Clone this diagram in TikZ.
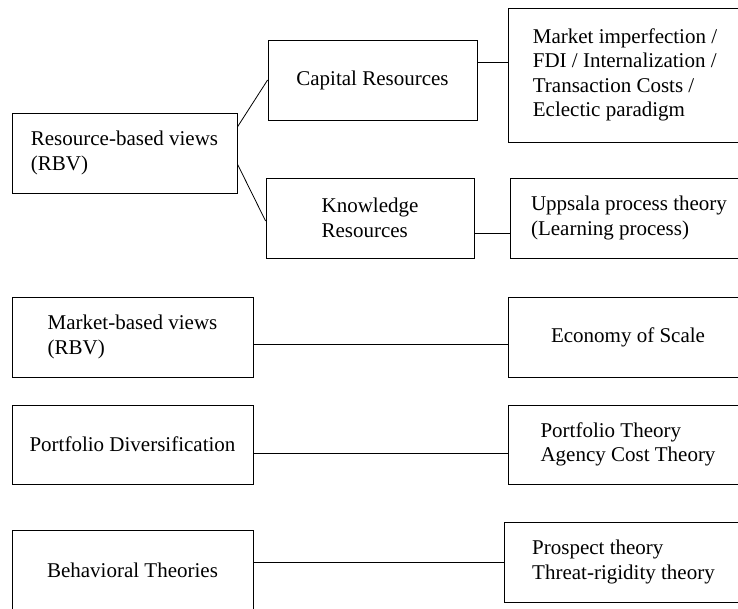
\documentclass[tikz,border=0pt]{standalone}
\usepackage{fontspec}
\setmainfont{Liberation Serif}
\usetikzlibrary{positioning,calc}

\begin{document}
\begin{tikzpicture}[x=1pt, y=-1pt, line width=0.8pt,
    every node/.style={rectangle, draw, align=left, inner sep=0pt, minimum height=80pt, font=\fontsize{21}{24.5}\selectfont}]
    \useasboundingbox (0,0) rectangle (738,608);
    \clip (0,0) rectangle (738,608);
    % resource-based branch
    \node [minimum width=225pt] (rbv) at (124.5,153) {Resource-based views\\(RBV)};
    \node [minimum width=209pt] (cap) at (372.5,80) {Capital Resources};
    \node [minimum width=208pt] (know) at (370,218) {Knowledge\\Resources};
    \node [minimum width=234pt, minimum height=134pt] (mkt) at (625,75) {Market imperfection /\\FDI / Internalization /\\Transaction Costs /\\Eclectic paradigm};
    \node [minimum width=238pt] (upp) at (629,218) {Uppsala process theory\\(Learning process)};
    % other views
    \node [minimum width=241pt] (mbv) at (132.5,337) {Market-based views\\(RBV)};
    \node [minimum width=240pt] (eos) at (628,337) {Economy of Scale};
    \node [minimum width=241pt, minimum height=79pt] (pdiv) at (132.5,444.5) {Portfolio Diversification};
    \node [minimum width=240pt, minimum height=79pt] (pth) at (628,444.5) {Portfolio Theory\\Agency Cost Theory};
    \node [minimum width=241pt] (beh) at (132.5,570) {Behavioral Theories};
    \node [minimum width=239pt] (pros) at (623.5,562) {Prospect theory\\Threat-rigidity theory};

    \draw ([yshift=26pt]rbv.east) -- (cap.west);
    \draw ([yshift=-11pt]rbv.east) -- ([yshift=-3pt]know.west);
    \draw ([yshift=18pt]cap.east) -- ([yshift=18pt]cap.east -| mkt.west);
    \draw ([yshift=-15pt]know.east) -- ([yshift=-15pt]know.east -| upp.west);
    \draw ([yshift=-7pt]mbv.east) -- ([yshift=-7pt]mbv.east -| eos.west);
    \draw ([yshift=-8.5pt]pdiv.east) -- ([yshift=-8.5pt]pdiv.east -| pth.west);
    \draw ([yshift=8pt]beh.east) -- (pros.west);
\end{tikzpicture}
\end{document}
